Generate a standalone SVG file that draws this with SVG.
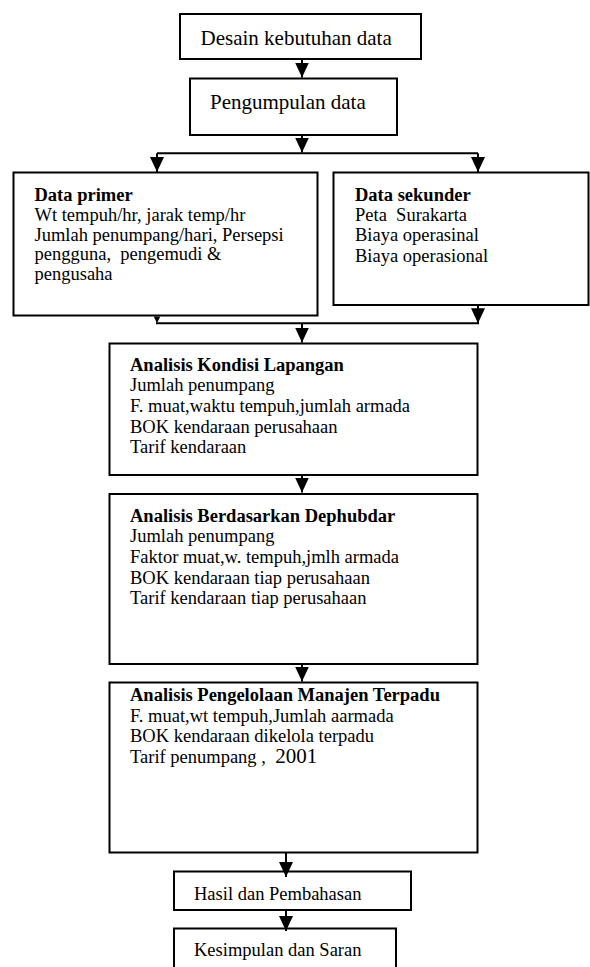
<svg xmlns="http://www.w3.org/2000/svg" width="590" height="967" viewBox="0 0 590 967">
<style>
  .box { fill: #ffffff; stroke: #000000; stroke-width: 2; }
  .t { font-family: "Liberation Serif", "Times New Roman", serif; font-size: 18.5px; fill: #000000; white-space: pre; }
  .big { font-size: 21px; }
  .b { font-weight: bold; }
  .ln { fill: none; stroke: #000000; stroke-width: 2; }
  .arr { fill: none; stroke: #000000; stroke-width: 2; marker-end: url(#ah); }
</style>
<defs>
  <marker id="ah" viewBox="0 0 15 14" refX="15" refY="7" markerWidth="15" markerHeight="14" markerUnits="userSpaceOnUse" orient="auto">
    <path d="M0,0 L15,7 L0,14 z" fill="#000000"/>
  </marker>
</defs>
<rect x="0" y="0" width="590" height="967" fill="#ffffff"/>

<g id="n1">
  <rect class="box" x="180" y="14" width="241" height="45"/>
  <text class="t big" x="200.5" y="45">Desain kebutuhan data</text>
</g>
<g id="n2">
  <rect class="box" x="190" y="78.5" width="207" height="56.5"/>
  <text class="t big" x="210" y="108.5">Pengumpulan data</text>
</g>
<g id="n3">
  <rect class="box" x="13.5" y="172.5" width="304" height="143"/>
  <text class="t b" x="34.5" y="200.5">Data primer</text>
  <text class="t" x="34.5" y="220.5">Wt tempuh/hr, jarak temp/hr</text>
  <text class="t" x="34.5" y="240.5">Jumlah penumpang/hari, Persepsi</text>
  <text class="t" x="34.5" y="260">pengguna,  pengemudi &amp;</text>
  <text class="t" x="34.5" y="280">pengusaha</text>
</g>
<g id="n4">
  <rect class="box" x="333.5" y="172.5" width="255" height="132.5"/>
  <text class="t b" x="355" y="200.5">Data sekunder</text>
  <text class="t" x="355" y="221">Peta  Surakarta</text>
  <text class="t" x="355" y="241.3">Biaya operasinal</text>
  <text class="t" x="355" y="261.6">Biaya operasional</text>
</g>
<g id="n5">
  <rect class="box" x="109.5" y="343.5" width="368" height="131.5"/>
  <text class="t b" x="130" y="370.5">Analisis Kondisi Lapangan</text>
  <text class="t" x="130" y="391.2">Jumlah penumpang</text>
  <text class="t" x="130" y="411.9">F. muat,waktu tempuh,jumlah armada</text>
  <text class="t" x="130" y="432.6">BOK kendaraan perusahaan</text>
  <text class="t" x="130" y="453.3">Tarif kendaraan</text>
</g>
<g id="n6">
  <rect class="box" x="109.5" y="494" width="368" height="170"/>
  <text class="t b" x="130" y="521.5">Analisis Berdasarkan Dephubdar</text>
  <text class="t" x="130" y="542.2">Jumlah penumpang</text>
  <text class="t" x="130" y="562.9">Faktor muat,w. tempuh,jmlh armada</text>
  <text class="t" x="130" y="583.6">BOK kendaraan tiap perusahaan</text>
  <text class="t" x="130" y="604.3">Tarif kendaraan tiap perusahaan</text>
</g>
<g id="n7">
  <rect class="box" x="109.5" y="682.5" width="368" height="170"/>
  <text class="t b" x="130" y="701">Analisis Pengelolaan Manajen Terpadu</text>
  <text class="t" x="130" y="721.7">F. muat,wt tempuh,Jumlah aarmada</text>
  <text class="t" x="130" y="742.4">BOK kendaraan dikelola terpadu</text>
  <text class="t" x="130" y="763.1">Tarif penumpang ,  <tspan class="big">2001</tspan></text>
</g>
<g id="n8">
  <rect class="box" x="174" y="871.5" width="237" height="38.5"/>
  <text class="t" x="194" y="900">Hasil dan Pembahasan</text>
</g>
<g id="n9">
  <rect class="box" x="174" y="928.5" width="222" height="45"/>
  <text class="t" x="194" y="956">Kesimpulan dan Saran</text>
</g>

<g id="connectors">
  <path class="arr" d="M302,59 V77.5"/>
  <path class="arr" d="M302,135 V152.5"/>
  <path class="ln" d="M157,153.3 H478"/>
  <path class="arr" d="M157,153.3 V172"/>
  <path class="arr" d="M478,153.3 V172"/>
  <polygon points="153.7,316.5 160.3,316.5 157,323.3" fill="#000000"/>
  <path class="arr" d="M478,305 V323.3"/>
  <path class="ln" d="M156,323.3 H479"/>
  <path class="arr" d="M302,323.3 V342.5"/>
  <path class="arr" d="M302,475 V492.5"/>
  <path class="arr" d="M302,664 V681.5"/>
  <path class="arr" d="M286,852.5 V877"/>
  <path class="arr" d="M286,910 V931"/>
</g>
</svg>
